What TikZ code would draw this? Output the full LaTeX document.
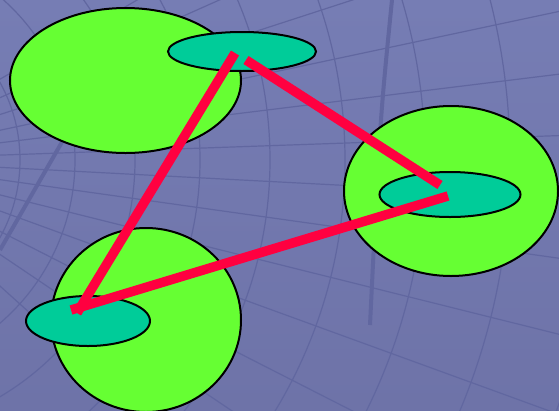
\documentclass[tikz,border=0pt]{standalone}
\usetikzlibrary{shapes.geometric, calc}

\definecolor{bgblue}{HTML}{6E73A8}
\definecolor{bglight}{HTML}{767DB4}
\definecolor{gridline}{HTML}{6167A0}
\definecolor{cellgreen}{HTML}{66FF33}
\definecolor{coreteal}{HTML}{00CC99}
\definecolor{linkred}{HTML}{FF0040}

\begin{document}
\begin{tikzpicture}[
  x=1pt, y=-1pt,
  cell/.style={
    ellipse, draw=black, fill=cellgreen, line width=2pt, inner sep=0pt
  },
  core/.style={
    ellipse, draw=black, fill=coreteal, line width=2pt, inner sep=0pt
  },
  link/.style={draw=linkred, line width=9.5pt, line cap=butt},
  gridln/.style={draw=gridline, line width=1.2pt},
  thickln/.style={draw=gridline, line width=4pt},
]

% ===== Background =====
\fill[top color=bglight, bottom color=bgblue] (0,0) rectangle (559,410);
\useasboundingbox (0,0) rectangle (559,410);

\begin{scope}
  \clip (0,0) rectangle (559,410);
  % arcs around the grid focus
  \foreach \r in {160,215,275,340,410,485,565,650,740,835} {
    \draw[gridln] (-140,160) circle[radius=\r];
  }
  % rays out of the focus
  \foreach \a in {-30,-24,-18,-12,-7,-2,3,8,14,20,27,34,42} {
    \draw[gridln] (-140,160) -- ++(\a:1000);
  }
  \draw[thickln] (392,0) .. controls (380,120) .. (370,325);
  \draw[thickln] (62,142) -- (0,250);
\end{scope}

% ===== Cells =====
\node[cell, minimum width=231, minimum height=145] (cellA) at (125.5,80.5) {};
\node[cell, minimum width=214, minimum height=170] (cellB) at (451,191) {};
\node[cell, minimum width=190, minimum height=184] (cellC) at (146,320) {};

% ===== Cores =====
\node[core, minimum width=148, minimum height=39] (coreA) at (242,51.5) {};
\node[core, minimum width=141, minimum height=45] (coreB) at (450,194.5) {};
\node[core, minimum width=124, minimum height=50] (coreC) at (88,321) {};

% ===== Link ends =====
\coordinate (a1) at (235,53);
\coordinate (a2) at (246,60);
\coordinate (b1) at (440,185);
\coordinate (b2) at (448,196);
\coordinate (c1) at (77,313);
\coordinate (c2) at (71,310);

% ===== Links =====
\draw[link] (a1) -- (c1);
\draw[link] (a2) -- (b1);
\draw[link] (b2) -- (c2);

\end{tikzpicture}
\end{document}
